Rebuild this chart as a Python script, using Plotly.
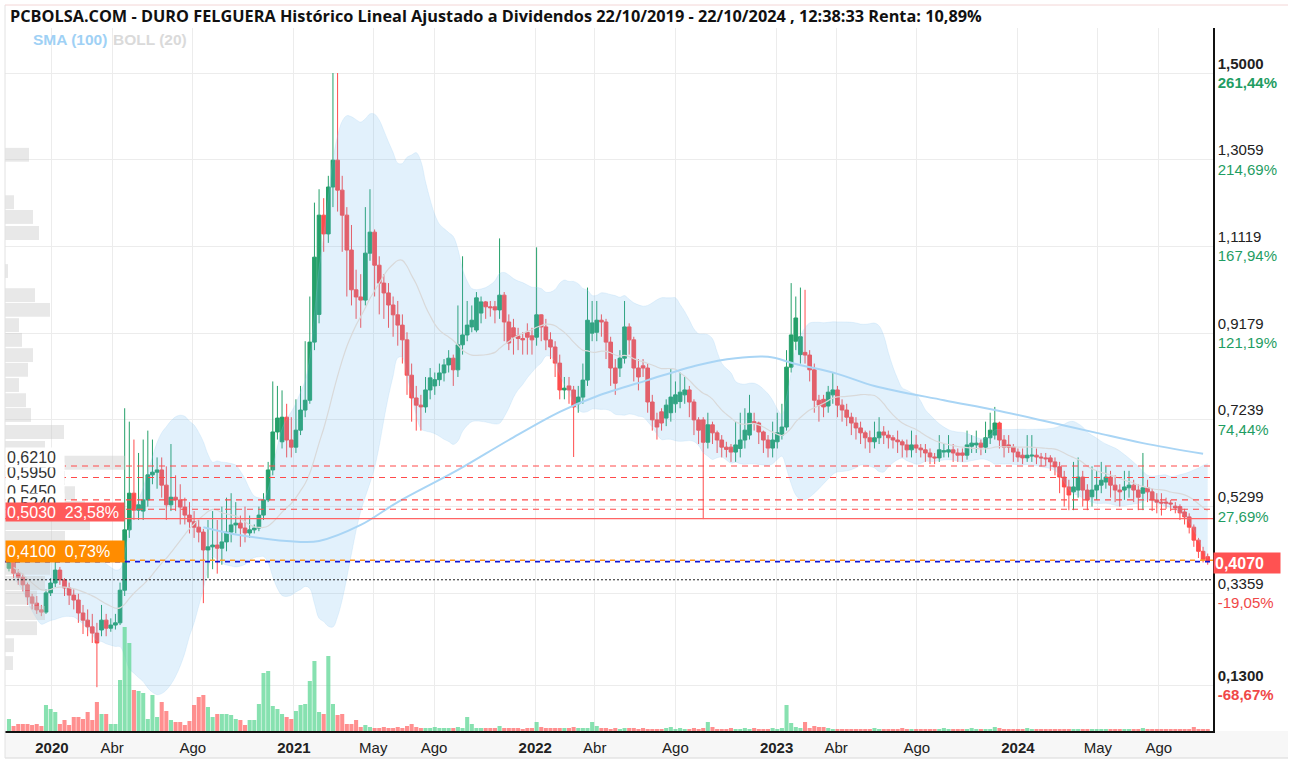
import pandas as pd
import numpy as np
import plotly.graph_objects as go

# ---------------- data ----------------
opens = [
 .392,.406,.381,.372,.355,.328,.314,.299,.294,.337,.359,.388,.366,.348,.332,.321,.292,.276,.261,.247,
 .254,.276,.258,.265,.270,.343,.478,.560,.522,.520,.545,.601,.607,.612,.578,.534,.551,.545,.529,.511,
 .496,.484,.473,.433,.440,.444,.437,.451,.473,.489,.493,.482,.471,.478,.482,.511,.545,.612,.697,.675,
 .730,.679,.663,.701,.746,.768,.898,.960,1.182,1.140,1.245,1.305,1.238,1.182,1.104,1.015,.999,.992,1.097,1.144,
 1.070,1.030,1.008,.981,.959,.936,.903,.824,.773,.757,.753,.791,.800,.814,.829,.847,.862,.836,.892,.914,
 .932,.925,.963,.988,.977,.977,.970,1.003,.943,.930,.912,.906,.920,.912,.909,.959,.932,.903,.887,.851,
 .791,.800,.791,.760,.775,.813,.918,.920,.947,.943,.898,.840,.840,.862,.932,.903,.840,.845,.840,.764,
 .724,.742,.728,.740,.760,.765,.780,.791,.764,.724,.724,.674,.713,.695,.679,.663,.663,.652,.660,.679,
 .690,.720,.717,.697,.679,.661,.675,.690,.708,.842,.900,.870,.875,.869,.836,.768,.770,.755,.780,.791,
 .757,.746,.730,.717,.706,.695,.684,.675,.684,.697,.690,.684,.679,.675,.668,.657,.668,.661,.657,.650,
 .641,.639,.652,.652,.657,.650,.650,.645,.665,.668,.672,.663,.684,.690,.717,.679,.668,.663,.652,.645,
 .639,.643,.645,.641,.639,.639,.630,.619,.596,.574,.563,.567,.596,.567,.552,.567,.578,.585,.596,.578,
 .567,.567,.572,.578,.567,.560,.572,.563,.545,.540,.540,.538,.531,.530,.518,.507,.484,.455,.430,.418]

highs = [
 .420,.410,.390,.380,.360,.335,.330,.310,.345,.370,.410,.395,.370,.360,.345,.335,.310,.300,.290,.270,
 .310,.290,.280,.290,.360,.750,.720,.680,.650,.680,.700,.680,.640,.640,.620,.670,.600,.580,.550,.540,
 .520,.500,.480,.500,.520,.500,.530,.550,.560,.540,.510,.530,.510,.490,.530,.560,.630,.810,.800,.790,
 .760,.730,.770,.800,.900,1.00,1.21,1.24,1.22,1.27,1.50,1.50,1.27,1.20,1.16,1.06,1.05,1.20,1.24,1.15,
 1.09,1.05,1.03,1.00,.990,.960,.920,.850,.800,.780,.820,.840,.830,.850,.860,.880,.870,.980,1.09,.990,
 .980,1.01,1.00,.990,.990,.990,1.13,1.01,.960,.950,.930,.920,.940,.930,1.11,.960,.950,.920,.900,.870,
 .820,.820,.800,.800,.850,1.02,.990,.990,.960,.950,.910,.860,.880,.990,.940,.910,.860,.860,.850,.780,
 .740,.750,.770,.840,.810,.830,.820,.800,.770,.730,.730,.740,.720,.700,.690,.675,.670,.720,.740,.750,
 .780,.740,.720,.700,.690,.720,.740,.760,.880,1.03,1.00,1.02,1.015,.880,.850,.780,.780,.800,.830,.800,
 .770,.760,.740,.730,.720,.700,.700,.720,.730,.710,.700,.690,.700,.680,.680,.700,.690,.670,.670,.660,
 .650,.690,.670,.690,.670,.660,.660,.700,.690,.700,.680,.720,.740,.753,.720,.690,.690,.670,.660,.660,
 .690,.690,.660,.650,.650,.645,.640,.630,.610,.590,.630,.640,.610,.580,.620,.610,.630,.620,.610,.600,
 .580,.610,.610,.590,.580,.650,.590,.570,.560,.560,.550,.545,.540,.535,.525,.515,.490,.460,.440,.425]

lows = [
 .385,.370,.355,.340,.310,.300,.290,.285,.290,.330,.350,.355,.330,.310,.300,.270,.245,.240,.225,.126,
 .240,.240,.250,.255,.265,.330,.460,.500,.500,.500,.530,.580,.570,.550,.500,.520,.520,.490,.490,.470,
 .460,.450,.314,.370,.390,.380,.400,.430,.450,.470,.440,.450,.460,.470,.475,.500,.540,.600,.680,.660,
 .640,.640,.650,.690,.730,.760,.880,.940,1.10,1.12,1.20,1.19,1.10,1.00,.980,.950,.930,.980,1.08,1.00,
 .960,.950,.930,.910,.890,.850,.780,.720,.700,.700,.740,.770,.780,.800,.810,.830,.800,.820,.870,.900,
 .920,.920,.940,.950,.955,.940,.950,.900,.880,.870,.880,.870,.870,.870,.890,.900,.880,.860,.820,.770,
 .770,.760,.641,.740,.760,.800,.900,.900,.910,.860,.800,.780,.820,.850,.870,.810,.790,.820,.740,.700,
 .680,.700,.710,.720,.740,.750,.760,.730,.690,.670,.502,.660,.670,.650,.640,.640,.630,.630,.640,.660,
 .680,.700,.670,.650,.640,.640,.660,.680,.700,.830,.880,.850,.850,.810,.740,.720,.730,.740,.760,.730,
 .720,.710,.690,.680,.670,.660,.650,.660,.670,.670,.660,.660,.650,.640,.640,.640,.650,.640,.630,.625,
 .625,.630,.640,.640,.630,.630,.630,.635,.650,.650,.645,.650,.670,.680,.660,.640,.650,.630,.630,.625,
 .630,.630,.625,.620,.620,.610,.600,.560,.530,.522,.522,.550,.530,.522,.530,.545,.560,.570,.550,.540,
 .530,.545,.550,.540,.522,.522,.540,.520,.515,.510,.525,.520,.515,.500,.490,.470,.440,.415,.405,.400]

closes = [
 .406,.381,.372,.355,.328,.314,.299,.294,.337,.359,.388,.366,.348,.332,.321,.292,.276,.261,.247,.225,
 .276,.258,.265,.270,.343,.478,.560,.522,.534,.545,.601,.607,.612,.578,.534,.551,.545,.529,.511,.496,
 .484,.473,.433,.440,.444,.437,.451,.473,.489,.493,.482,.471,.478,.482,.511,.545,.612,.697,.728,.730,
 .679,.663,.701,.746,.768,.898,1.088,1.182,1.140,1.245,1.305,1.238,1.182,1.104,1.015,.999,.992,1.097,1.144,1.070,
 1.030,1.008,.981,.959,.936,.903,.824,.773,.757,.753,.791,.818,.814,.829,.847,.862,.836,.892,.914,.936,
 .947,.997,.988,.977,.975,.970,1.003,.943,.896,.909,.906,.903,.909,.903,.959,.932,.903,.887,.851,.791,
 .795,.791,.753,.775,.813,.947,.941,.947,.943,.898,.840,.806,.862,.932,.903,.840,.820,.840,.764,.724,
 .708,.717,.757,.775,.780,.786,.791,.764,.724,.701,.674,.713,.695,.679,.663,.658,.652,.668,.679,.701,
 .739,.717,.697,.679,.661,.679,.695,.708,.842,.914,.952,.910,.869,.836,.768,.757,.753,.786,.791,.757,
 .746,.730,.717,.706,.695,.684,.675,.684,.697,.690,.684,.679,.675,.668,.657,.668,.661,.657,.650,.641,
 .639,.657,.655,.657,.650,.645,.645,.668,.672,.672,.663,.684,.701,.717,.679,.663,.663,.652,.641,.639,
 .645,.645,.641,.639,.637,.630,.619,.596,.574,.556,.574,.596,.567,.545,.567,.578,.589,.596,.578,.567,
 .563,.574,.578,.567,.551,.572,.563,.545,.540,.538,.538,.536,.527,.516,.507,.484,.455,.430,.412,.407]

volumes = [
 12,5,7,7,7,6,7,5,26,22,19,7,11,6,14,14,12,19,11,29,
 17,17,7,7,51,104,88,41,40,38,12,36,14,29,20,11,9,9,6,10,
 26,34,36,24,14,17,17,17,16,12,11,6,11,11,27,58,60,25,22,17,
 14,12,20,26,27,50,70,19,17,75,27,16,17,7,7,11,4,6,4,3,
 3,4,3,3,4,3,5,7,4,3,3,3,4,3,3,3,3,4,3,14,
 7,3,3,3,3,3,5,3,3,3,3,2,3,3,9,4,3,3,3,3,
 3,3,4,3,3,3,9,5,3,3,2,3,2,3,3,3,2,3,2,2,
 2,2,3,4,2,3,2,2,3,2,3,9,4,2,2,2,3,2,2,3,
 2,3,2,2,2,3,2,3,26,8,4,3,9,3,5,4,4,3,2,2,
 2,2,2,2,2,2,2,3,2,2,2,2,2,3,2,2,2,2,2,2,
 2,2,3,2,2,2,2,2,3,2,2,2,2,4,3,2,2,2,2,2,
 3,2,2,2,2,2,2,2,2,2,2,2,2,2,2,2,2,2,2,2,
 2,2,2,2,2,3,2,2,2,2,2,2,2,2,2,2,4,2,2,2]

# SMA(100) (week index -> value)
sma_idx = [42, 50, 63, 67, 76, 84, 97, 108, 119, 127, 138, 149, 157, 164, 170, 179, 187, 202, 213, 224, 235, 245, 258]
sma_val = [0.484, 0.466, 0.451, 0.453, 0.489, 0.540, 0.612, 0.679, 0.742, 0.777, 0.813, 0.847, 0.862, 0.865,
           0.849, 0.827, 0.800, 0.768, 0.746, 0.721, 0.695, 0.672, 0.648]

# volume profile (price bin centre -> relative volume)
prof_price = [1.317, 1.211, 1.178, 1.142, 1.057, 1.003, 0.970, 0.936, 0.903, 0.869, 0.836, 0.802, 0.768,
              0.735, 0.697, 0.661, 0.628, 0.594, 0.560, 0.527, 0.493, 0.460, 0.426, 0.393, 0.359, 0.326,
              0.292, 0.258, 0.220, 0.180]
prof_vol = [24, 9, 28, 34, 3, 30, 45, 14, 17, 28, 23, 14, 21, 26, 59, 40, 120, 60, 70, 80, 85, 60, 45, 45,
            40, 32, 40, 32, 9, 8]

tick_vals = [1.5, 1.3059, 1.1119, 0.9179, 0.7239, 0.5299, 0.3359, 0.13]
tick_price = ["1,5000", "1,3059", "1,1119", "0,9179", "0,7239", "0,5299", "0,3359", "0,1300"]
tick_pct = ["261,44%", "214,69%", "167,94%", "121,19%", "74,44%", "27,69%", "-19,05%", "-68,67%"]

date_ticks = ["2020-01-01", "2020-04-01", "2020-08-01", "2021-01-01", "2021-05-01", "2021-08-01",
              "2022-01-01", "2022-04-01", "2022-08-01", "2023-01-01", "2023-04-01", "2023-08-01",
              "2024-01-01", "2024-05-01", "2024-08-01"]
date_labels = ["<b>2020</b>", "Abr", "Ago", "<b>2021</b>", "May", "Ago", "<b>2022</b>", "Abr", "Ago",
               "<b>2023</b>", "Abr", "Ago", "<b>2024</b>", "May", "Ago"]

levels_dash = [0.621, 0.595, 0.545, 0.524]
level_solid = 0.503
level_orange = 0.410
level_last = 0.407
level_stop = 0.3663

n = len(closes)
assert len(opens) == n and len(highs) == n and len(lows) == n and len(volumes) == n

dates = pd.date_range("2019-10-28", periods=n, freq="7D")

# ---------------- layout helpers ----------------
W, H = 1292, 764
L, R, T, B = 5, 1213, 28, 731
def px_x(x):
    return (x - L) / (R - L)
def px_y(y):
    return (B - y) / (B - T)

GREEN = "#25a06a"
RED = "#ff4d4d"
FONT = "Liberation Sans, Arial, sans-serif"

s = pd.Series(closes)
mid = s.rolling(20, min_periods=2).mean()
sd = s.rolling(20, min_periods=2).std(ddof=0)
upper = mid + 2 * sd
lower = mid - 2 * sd

fig = go.Figure()

# volume profile
fig.add_trace(go.Bar(x=prof_vol, y=prof_price, orientation="h", xaxis="x2", yaxis="y",
                     marker=dict(color="rgba(200,200,200,0.42)", line=dict(width=0)),
                     width=0.031, showlegend=False, hoverinfo="skip"))

# Bollinger band
fig.add_trace(go.Scatter(x=dates, y=upper, mode="lines", line=dict(width=0.6, color="rgba(150,200,240,0.35)", shape="spline"),
                         showlegend=False, hoverinfo="skip"))
fig.add_trace(go.Scatter(x=dates, y=lower, mode="lines", line=dict(width=0.6, color="rgba(150,200,240,0.35)", shape="spline"),
                         fill="tonexty", fillcolor="rgba(100,180,240,0.19)", showlegend=False, hoverinfo="skip"))
fig.add_trace(go.Scatter(x=dates, y=mid, mode="lines", line=dict(width=1.2, color="#d9d9d9", shape="spline"),
                         showlegend=False, hoverinfo="skip"))

# SMA 100
fig.add_trace(go.Scatter(x=[dates[i] for i in sma_idx], y=sma_val, mode="lines",
                         line=dict(width=2, color="#a9d5f5", shape="spline"), showlegend=False, hoverinfo="skip"))

# volume
vcol = ["rgba(95,215,150,0.75)" if c >= o else "rgba(255,95,95,0.7)" for o, c in zip(opens, closes)]
fig.add_trace(go.Bar(x=dates, y=volumes, yaxis="y2", marker=dict(color=vcol, line=dict(width=0)),
                     showlegend=False, hoverinfo="skip"))

# candles
fig.add_trace(go.Candlestick(x=dates, open=opens, high=highs, low=lows, close=closes,
                             increasing=dict(line=dict(color=GREEN, width=1), fillcolor=GREEN),
                             decreasing=dict(line=dict(color=RED, width=1), fillcolor=RED),
                             whiskerwidth=0, showlegend=False))

ticktext = []
for k, (p, q) in enumerate(zip(tick_price, tick_pct)):
    col = "#1f9d63" if not q.startswith("-") else "#f04848"
    if k == 0 or k == len(tick_vals) - 1:
        ticktext.append(f"<b>{p}</b><br><b><span style='color:{col}'>{q}</span></b>")
    else:
        ticktext.append(f"{p}<br><span style='color:{col}'>{q}</span>")

shapes = []
# x-axis label band
shapes.append(dict(type="rect", xref="paper", yref="paper", x0=px_x(5), x1=px_x(1288), y0=px_y(731), y1=px_y(758),
                   fillcolor="#f7f7f7", line=dict(width=0), layer="below"))
shapes.append(dict(type="line", xref="paper", yref="paper", x0=px_x(5), x1=px_x(1288), y0=px_y(758), y1=px_y(758),
                   line=dict(color="#d8d8d8", width=1)))
# left border & top border
shapes.append(dict(type="line", xref="paper", yref="paper", x0=0, x1=0, y0=px_y(758), y1=px_y(5),
                   line=dict(color="#e2e2e2", width=1)))
shapes.append(dict(type="line", xref="paper", yref="paper", x0=0, x1=px_x(1288), y0=px_y(5), y1=px_y(5),
                   line=dict(color="#f3d6d6", width=1)))
for lv in levels_dash:
    shapes.append(dict(type="line", xref="paper", yref="y", x0=0, x1=1, y0=lv, y1=lv,
                       line=dict(color="#ff4a4a", width=1.1, dash="6px,5px"), layer="above"))
shapes.append(dict(type="line", xref="paper", yref="y", x0=0, x1=1, y0=level_solid, y1=level_solid,
                   line=dict(color="#ff6464", width=1.2), layer="above"))
shapes.append(dict(type="line", xref="paper", yref="y", x0=0, x1=1, y0=level_orange, y1=level_orange,
                   line=dict(color="#ff9a1f", width=1.6, dash="0px,5px,5px,0px"), layer="above"))
shapes.append(dict(type="line", xref="paper", yref="y", x0=0, x1=1, y0=level_last, y1=level_last,
                   line=dict(color="#1414d2", width=1.6, dash="5px,5px"), layer="above"))
shapes.append(dict(type="line", xref="paper", yref="y", x0=0, x1=1, y0=level_stop, y1=level_stop,
                   line=dict(color="#222222", width=1, dash="2px,2px"), layer="above"))

ann = []
ann.append(dict(xref="paper", yref="paper", x=px_x(8), y=px_y(16), xanchor="left", yanchor="middle",
                text="<b>PCBOLSA.COM - DURO FELGUERA Histórico Lineal Ajustado a Dividendos 22/10/2019 - 22/10/2024 , 12:38:33 Renta: 10,89%</b>",
                showarrow=False, font=dict(family="Open Sans, sans-serif", size=16.3, color="#111")))
ann.append(dict(xref="paper", yref="paper", x=px_x(31), y=px_y(40), xanchor="left", yanchor="middle",
                text="<b>SMA (100)</b>", showarrow=False, font=dict(family=FONT, size=15.5, color="#9fd1f5")))
ann.append(dict(xref="paper", yref="paper", x=px_x(111), y=px_y(40), xanchor="left", yanchor="middle",
                text="<b>BOLL (20)</b>", showarrow=False, font=dict(family=FONT, size=15.5, color="#dadada")))

def label(text, ycen, width, bg, color, size=16, x=5, height=17, bold=False):
    t = f"<b>{text}</b>" if bold else text
    ann.append(dict(xref="paper", yref="paper", x=px_x(x), y=px_y(ycen), xanchor="left", yanchor="middle",
                    text=t, showarrow=False, align="left", width=width, height=height, bgcolor=bg,
                    borderpad=1, font=dict(family=FONT, size=size, color=color)))

label("0,5950", 472, 56, "white", "#333")
label("0,6210", 457, 56, "white", "#333")
label("0,5450", 491, 56, "white", "#333")
label("0,5240", 504, 56, "white", "#333")
label("0,5030&nbsp;&nbsp;23,58%", 511.5, 116, "#ff5a5a", "white", size=16, height=16)
label("0,4100&nbsp;&nbsp;0,73%", 551, 116, "#ff8c00", "white", size=16, height=19)
label("0,4070", 562.5, 64, "#ff5252", "white", size=16, x=1213, height=18, bold=True)

fig.update_layout(
    width=W, height=H,
    margin=dict(l=L, r=W - R, t=T, b=H - B),
    paper_bgcolor="white", plot_bgcolor="white",
    showlegend=False, bargap=0.12, boxgap=0.12, boxgroupgap=0.1,
    shapes=shapes, annotations=ann,
    xaxis=dict(type="date", range=["2019-10-22", "2024-10-22"], tickvals=date_ticks, ticktext=date_labels,
               tickfont=dict(family=FONT, size=15, color="#222"), showgrid=True, gridcolor="#ececec",
               gridwidth=1, showline=True, linecolor="#111", linewidth=2, ticks="outside", ticklen=2,
               tickcolor="rgba(0,0,0,0)", rangeslider=dict(visible=False), zeroline=False),
    xaxis2=dict(overlaying="x", range=[0, R - L], visible=False),
    yaxis=dict(side="right", range=[0.028, 1.6007], tickvals=tick_vals, ticktext=ticktext,
               tickfont=dict(family=FONT, size=15, color="#222"), showgrid=True, gridcolor="#ececec",
               showline=True, linecolor="#111", linewidth=1.5, ticks="", zeroline=False),
    yaxis2=dict(overlaying="y", range=[0, B - T], visible=False),
)

fig.write_html("out.html", config={"displayModeBar": False},
               post_script="document.body.style.margin='0px';document.body.style.overflow='hidden';")
